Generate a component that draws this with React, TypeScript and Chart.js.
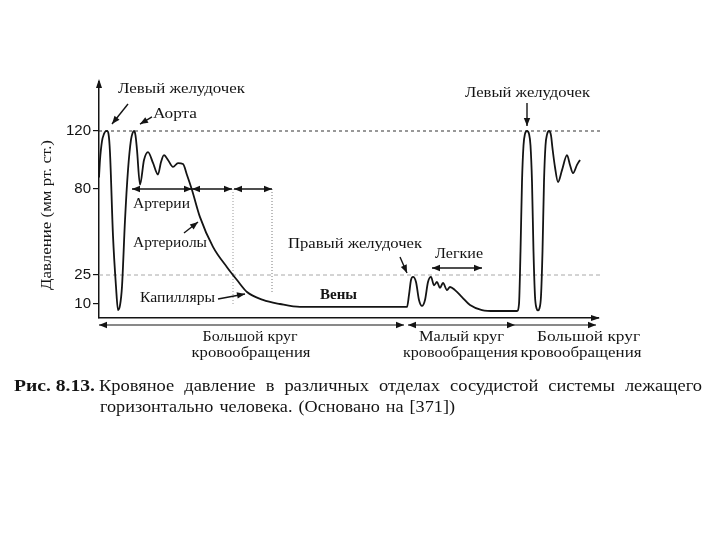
import React, { useEffect, useRef } from "react";
import { Chart, registerables } from "chart.js";

Chart.register(...registerables);

// Position along the circulation (arbitrary units, left ventricle -> left ventricle)
const positions = [0, 1, 3, 5, 6.5, 8, 9.5, 11, 14, 17, 19, 21, 23, 26, 29, 32, 33.5, 35, 36.5, 38, 41, 45, 49, 54, 59, 62, 65, 69, 74, 79, 84, 88, 93, 101, 114, 128, 138, 148, 164, 181, 201, 221, 308, 310, 312, 314, 317, 320, 323, 326, 329, 332, 335, 338, 341, 344, 348, 351, 356, 363, 371, 383, 396, 418, 420, 421.5, 423, 424.5, 426, 428, 430, 431.5, 433, 434.5, 436, 437.5, 439, 440.5, 442, 443.5, 445, 446.5, 448, 450, 452, 453.5, 456, 459, 463, 468, 471, 474, 478, 481];
// Blood pressure, mm Hg
const pressures = [88, 100, 113, 118, 119.7, 120, 118, 105, 50, 19, 5.7, 9, 19, 60, 93, 114, 118.5, 120, 117, 107, 83, 100, 105.5, 98, 90, 98.6, 103.4, 100, 95.2, 97.9, 97.2, 89.7, 79.4, 62, 43, 30, 22.4, 16.2, 12.1, 10, 7.9, 7.9, 7.9, 14.7, 22.4, 24, 21.4, 12.1, 8.6, 12.1, 21.4, 24, 19.7, 21.4, 18.3, 20.9, 17.2, 18.8, 17.2, 13.6, 9.3, 5.7, 5, 5, 10, 40, 85, 110, 118, 120, 118, 110, 85, 40, 14, 7, 5.5, 7, 14, 40, 85, 110, 117.5, 120, 117, 108, 95, 84.8, 93, 103.4, 96.6, 91, 96.6, 100];

// Tick labels of the (schematic, non-linear) pressure axis
const tickValues = [10, 25, 80, 120];
const referenceLevels = [120, 25];

// Section boundaries along the x axis
const arteriesSpan = [33, 93];
const arteriolesSpan = [93, 133];
const capillariesSpan = [135, 173];
const lungsSpan = [333, 383];
const systemicSpan = [0, 305];
const pulmonarySpan = [309, 416];
const systemic2Span = [416, 497];

// Schematic axis: mm Hg anchors and their axis units
const anchorMm = [0, 10, 25, 80, 120];
const anchorU = [0, 14, 43, 129, 187];
function toU(mm: number): number {
  let i = 0;
  if (mm <= anchorMm[0]) i = 0;
  else if (mm >= anchorMm[anchorMm.length - 1]) i = anchorMm.length - 2;
  else {
    while (i < anchorMm.length - 2 && mm > anchorMm[i + 1]) i++;
  }
  const m0 = anchorMm[i], m1 = anchorMm[i + 1], u0 = anchorU[i], u1 = anchorU[i + 1];
  return u0 + ((mm - m0) * (u1 - u0)) / (m1 - m0);
}

const SERIF = "'Liberation Serif', 'DejaVu Serif', serif";
const INK = "#141414";

type Label = { text: string; x: number; mm: number; w: number; bold?: boolean };
const chartLabels: Label[] = [
  { text: "Левый желудочек", x: 82.5, mm: 149, w: 127 },
  { text: "Аорта", x: 76, mm: 131.7, w: 44 },
  { text: "Артерии", x: 62.5, mm: 70.4, w: 57 },
  { text: "Артериолы", x: 71, mm: 45.5, w: 74 },
  { text: "Капилляры", x: 78.5, mm: 13.1, w: 75 },
  { text: "Вены", x: 239.5, mm: 14.65, w: 37, bold: true },
  { text: "Правый желудочек", x: 256, mm: 44.8, w: 134 },
  { text: "Легкие", x: 360, mm: 38.5, w: 48 },
  { text: "Левый желудочек", x: 428.5, mm: 146.2, w: 125 },
];

type BLabel = { text: string; x: number; off: number; w: number };
const bottomLabels: BLabel[] = [
  { text: "Большой круг", x: 151, off: 19, w: 95 },
  { text: "кровообращения", x: 152, off: 35, w: 119 },
  { text: "Малый круг", x: 362.5, off: 19, w: 85 },
  { text: "кровообращения", x: 361.5, off: 35, w: 115 },
  { text: "Большой круг", x: 489.5, off: 19, w: 103 },
  { text: "кровообращения", x: 482, off: 35, w: 121 },
];

type Arrow = { from: [number, number]; to: [number, number] };
const pointerArrows: Arrow[] = [
  { from: [29, 138.6], to: [13, 124.8] },
  { from: [53, 129.7], to: [41, 124.8] },
  { from: [85, 51.9], to: [99, 58.9] },
  { from: [119, 12.6], to: [146, 15.2] },
  { from: [301, 36.5], to: [308, 26.3] },
  { from: [428, 139.3], to: [428, 123.4] },
];

function arrowHead(ctx: CanvasRenderingContext2D, x1: number, y1: number, x2: number, y2: number, len = 8, half = 3.2) {
  const a = Math.atan2(y2 - y1, x2 - x1);
  ctx.beginPath();
  ctx.moveTo(x2, y2);
  ctx.lineTo(x2 - len * Math.cos(a) + half * Math.sin(a), y2 - len * Math.sin(a) - half * Math.cos(a));
  ctx.lineTo(x2 - len * Math.cos(a) - half * Math.sin(a), y2 - len * Math.sin(a) + half * Math.cos(a));
  ctx.closePath();
  ctx.fill();
}

function arrowLine(ctx: CanvasRenderingContext2D, x1: number, y1: number, x2: number, y2: number, start: boolean, end: boolean, lw = 1.3) {
  ctx.lineWidth = lw;
  ctx.beginPath();
  ctx.moveTo(x1, y1);
  ctx.lineTo(x2, y2);
  ctx.stroke();
  if (end) arrowHead(ctx, x1, y1, x2, y2);
  if (start) arrowHead(ctx, x2, y2, x1, y1);
}

function fitText(ctx: CanvasRenderingContext2D, text: string, cx: number, cy: number, font: string, w: number, align: CanvasTextAlign = "center") {
  ctx.save();
  ctx.font = font;
  const m = ctx.measureText(text).width;
  const s = m > 0 ? w / m : 1;
  ctx.translate(cx, cy);
  ctx.scale(s, 1);
  ctx.textAlign = align;
  ctx.textBaseline = "middle";
  ctx.fillText(text, 0, 0);
  ctx.restore();
}

// words stretched slightly and spread so that the line fills the width with a given word gap
function spreadText(ctx: CanvasRenderingContext2D, text: string, left: number, cy: number, font: string, w: number, gap: number) {
  ctx.save();
  ctx.font = font;
  ctx.textAlign = "left";
  ctx.textBaseline = "middle";
  const words = text.split(" ");
  const widths = words.map((t) => ctx.measureText(t).width);
  const sum = widths.reduce((a, b) => a + b, 0);
  const s = (w - gap * (words.length - 1)) / sum;
  let x = left;
  words.forEach((t, i) => {
    ctx.save();
    ctx.translate(x, cy);
    ctx.scale(s, 1);
    ctx.fillText(t, 0, 0);
    ctx.restore();
    x += widths[i] * s + gap;
  });
  ctx.restore();
}

const annotationPlugin = {
  id: "schemeAnnotations",
  afterDraw(chart: any) {
    const ctx: CanvasRenderingContext2D = chart.ctx;
    const xs = chart.scales.x;
    const ys = chart.scales.y;
    const area = chart.chartArea;
    const px = (x: number) => xs.getPixelForValue(x);
    const py = (mm: number) => ys.getPixelForValue(toU(mm));
    ctx.save();
    ctx.fillStyle = INK;
    ctx.strokeStyle = INK;

    // axis arrow heads
    arrowHead(ctx, area.left, area.top + 10, area.left, area.top - 3, 9, 3);
    arrowHead(ctx, area.right - 10, area.bottom, area.right + 2, area.bottom, 9, 3);

    // span arrows at the 80 mm Hg level
    const y80 = py(80);
    [arteriesSpan, arteriolesSpan, capillariesSpan].forEach((s) => arrowLine(ctx, px(s[0]), y80, px(s[1]), y80, true, true, 1.6));
    const yl = py(29.5);
    arrowLine(ctx, px(lungsSpan[0]), yl, px(lungsSpan[1]), yl, true, true, 1.4);

    // circulation brackets under the axis
    const yb = area.bottom + 7;
    arrowLine(ctx, px(systemicSpan[0]), yb, px(systemicSpan[1]), yb, true, true, 1.2);
    arrowLine(ctx, px(pulmonarySpan[0]), yb, px(pulmonarySpan[1]), yb, true, true, 1.2);
    arrowLine(ctx, px(systemic2Span[0]), yb, px(systemic2Span[1]), yb, false, true, 1.2);

    // pointer arrows
    pointerArrows.forEach((a) => arrowLine(ctx, px(a.from[0]), py(a.from[1]), px(a.to[0]), py(a.to[1]), false, true, 1.4));

    // labels
    chartLabels.forEach((l) => fitText(ctx, l.text, px(l.x), py(l.mm), `${l.bold ? "bold " : ""}15px ${SERIF}`, l.w));
    bottomLabels.forEach((l) => fitText(ctx, l.text, px(l.x), area.bottom + l.off, `15px ${SERIF}`, l.w));

    // y axis title
    ctx.save();
    ctx.translate(47, 215);
    ctx.rotate(-Math.PI / 2);
    fitText(ctx, "Давление (мм рт. ст.)", 0, 0, `15px ${SERIF}`, 150);
    ctx.restore();

    // caption
    fitText(ctx, "Рис. 8.13.", 14, 387, `bold 17px ${SERIF}`, 81, "left");
    spreadText(ctx, "Кровяное давление в различных отделах сосудистой системы лежащего", 99, 387, `17px ${SERIF}`, 603, 10);
    spreadText(ctx, "горизонтально человека. (Основано на [371])", 100, 408, `17px ${SERIF}`, 355, 6);
    ctx.restore();
  },
};

export default function App() {
  const ref = useRef<HTMLCanvasElement | null>(null);
  useEffect(() => {
    if (!ref.current) return;
    const levelStyles = [
      { color: "#333333", dash: [3, 3] },
      { color: "#a8a8a8", dash: [4, 3] },
    ];
    const chart = new Chart(ref.current, {
      type: "line",
      data: {
        datasets: [
          {
            data: positions.map((x, i) => ({ x, y: toU(pressures[i]) })),
            borderColor: INK,
            borderWidth: 1.8,
            pointRadius: 0,
            cubicInterpolationMode: "monotone",
            fill: false,
          },
          ...referenceLevels.map((lv, i) => ({
            data: [
              { x: 0, y: toU(lv) },
              { x: 501, y: toU(lv) },
            ],
            borderColor: levelStyles[i].color,
            borderWidth: 1,
            borderDash: levelStyles[i].dash,
            pointRadius: 0,
            clip: false as any,
            fill: false,
          })),
          {
            data: [
              { x: arteriolesSpan[1] + 1, y: toU(80) },
              { x: arteriolesSpan[1] + 1, y: toU(9.3) },
            ],
            borderColor: "#9a9a9a",
            borderWidth: 1,
            borderDash: [1, 2],
            pointRadius: 0,
            fill: false,
          },
          {
            data: [
              { x: capillariesSpan[1], y: toU(80) },
              { x: capillariesSpan[1], y: toU(16.2) },
            ],
            borderColor: "#7a7a7a",
            borderWidth: 1,
            borderDash: [1, 2],
            pointRadius: 0,
            fill: false,
          },
        ],
      },
      options: {
        animation: false,
        responsive: false,
        maintainAspectRatio: false,
        layout: { padding: { top: 82, right: 122, left: 0, bottom: 0 } },
        plugins: { legend: { display: false }, tooltip: { enabled: false }, title: { display: false } },
        scales: {
          x: {
            type: "linear",
            min: 0,
            max: 499,
            ticks: { display: false },
            grid: { display: false },
            border: { display: true, color: INK, width: 1.5 },
            afterFit(s: any) {
              s.height = 222;
            },
          },
          y: {
            type: "linear",
            min: 0,
            max: 236,
            afterBuildTicks(s: any) {
              s.ticks = tickValues.map((v) => ({ value: toU(v) }));
            },
            ticks: {
              callback: (value: any) => {
                const t = tickValues.find((v) => Math.abs(toU(v) - Number(value)) < 0.01);
                return t === undefined ? "" : String(t);
              },
              font: { family: "'Liberation Sans', Arial, sans-serif", size: 15 },
              color: INK,
              padding: 2,
            },
            grid: { drawOnChartArea: false, tickLength: 6, color: INK, lineWidth: 1.2 },
            border: { display: true, color: INK, width: 1.5 },
            afterFit(s: any) {
              s.width = 99;
            },
          },
        },
      },
      plugins: [annotationPlugin],
    } as any);
    return () => chart.destroy();
  }, []);
  return (
    <div style={{ position: "fixed", left: 0, top: 0, width: 720, height: 540, background: "#fff" }}>
      <canvas ref={ref} width={720} height={540} style={{ display: "block", width: 720, height: 540 }} />
    </div>
  );
}
